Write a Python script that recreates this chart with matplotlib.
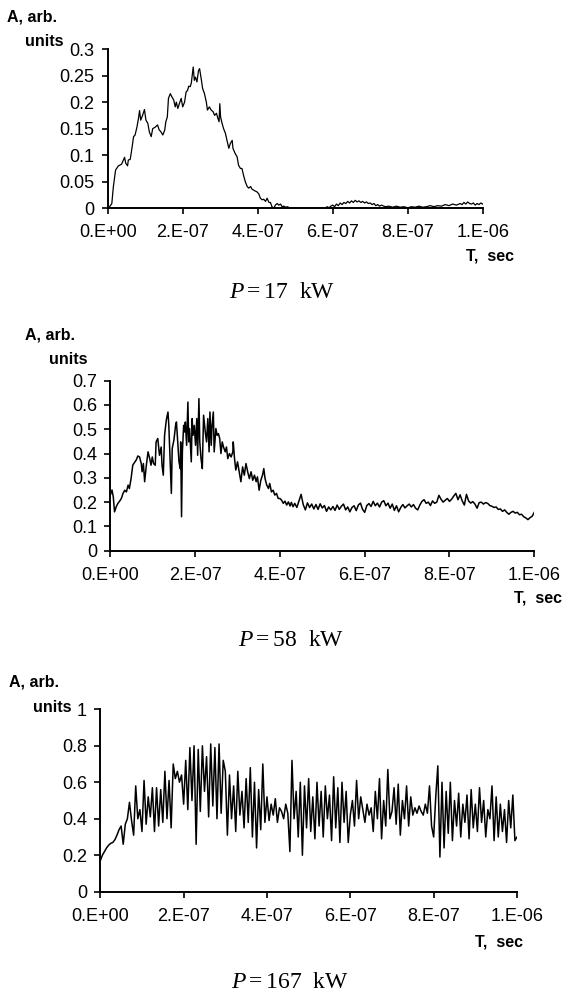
import numpy as np
import matplotlib
matplotlib.use("Agg")
import matplotlib.pyplot as plt

# =========================
# DONNÉES (temps en unités de 1e-7 s)
# =========================

# P = 17 kW
t17 = [0.0, 0.02, 0.11, 0.15, 0.21, 0.285, 0.37, 0.45, 0.48, 0.53,
       0.55, 0.60, 0.64, 0.69, 0.73, 0.78, 0.82, 0.85, 0.88, 0.93,
       0.98, 1.02, 1.07, 1.11, 1.16, 1.20, 1.27, 1.33, 1.37, 1.42,
       1.47, 1.52, 1.55, 1.59, 1.62, 1.67, 1.71, 1.76, 1.80, 1.83,
       1.87, 1.92, 1.96, 2.00, 2.05, 2.09, 2.13, 2.16, 2.20, 2.23,
       2.26, 2.28, 2.31, 2.34, 2.38, 2.42, 2.45, 2.50, 2.53, 2.58,
       2.63, 2.66, 2.71, 2.76, 2.81, 2.85, 2.90, 2.94, 2.97, 2.99,
       3.01, 3.05, 3.09, 3.14, 3.18, 3.23, 3.27, 3.32, 3.34, 3.40,
       3.45, 3.49, 3.54, 3.58, 3.63, 3.67, 3.72, 3.76, 3.81, 3.85,
       3.92, 3.98, 4.03, 4.07, 4.12, 4.16, 4.21, 4.25, 4.30, 4.34,
       4.38, 4.43, 4.47, 4.52, 4.56, 4.61, 4.65,
       4.70, 4.75, 4.80, 4.85, 5.00, 5.50, 5.80,
       5.85, 5.90, 5.95, 6.00, 6.05, 6.10, 6.15, 6.20, 6.25, 6.30,
       6.35, 6.40, 6.45, 6.50, 6.55, 6.60, 6.65, 6.70, 6.75, 6.80,
       6.85, 6.90, 6.95, 7.00, 7.05, 7.10, 7.15, 7.20, 7.25, 7.30,
       7.40, 7.50, 7.60, 7.70, 7.80, 7.90, 8.00, 8.10, 8.20, 8.30,
       8.40, 8.50, 8.60, 8.70, 8.80, 8.90, 9.00, 9.10, 9.20, 9.30,
       9.40, 9.45, 9.50, 9.55, 9.60, 9.65, 9.70, 9.75, 9.80, 9.85,
       9.90, 9.95, 10.00]
a17 = [0.0, 0.0, 0.009, 0.04, 0.072, 0.08, 0.083, 0.096, 0.085, 0.08,
       0.091, 0.092, 0.11, 0.135, 0.138, 0.153, 0.169, 0.184, 0.166, 0.175,
       0.186, 0.166, 0.16, 0.144, 0.135, 0.15, 0.153, 0.157, 0.148, 0.144,
       0.138, 0.147, 0.163, 0.172, 0.207, 0.216, 0.21, 0.204, 0.191, 0.2,
       0.188, 0.199, 0.207, 0.191, 0.2, 0.219, 0.222, 0.23, 0.229, 0.236,
       0.254, 0.266, 0.241, 0.247, 0.238, 0.259, 0.263, 0.241, 0.226, 0.216,
       0.2, 0.185, 0.191, 0.185, 0.182, 0.175, 0.179, 0.169, 0.163, 0.197,
       0.172, 0.16, 0.15, 0.141, 0.128, 0.113, 0.122, 0.128, 0.113, 0.103,
       0.097, 0.081, 0.075, 0.075, 0.06, 0.05, 0.041, 0.038, 0.041, 0.036,
       0.033, 0.031, 0.027, 0.019, 0.016, 0.017, 0.013, 0.019, 0.011, 0.011,
       0.003, 0.0, 0.006, 0.009, 0.006, 0.008, 0.003,
       0.004, 0.002, 0.003, 0.0, 0.0, 0.0, 0.0,
       0.003, 0.001, 0.004, 0.006, 0.003, 0.008, 0.005, 0.010, 0.007, 0.011,
       0.009, 0.013, 0.010, 0.014, 0.011, 0.015, 0.012, 0.014, 0.011, 0.013,
       0.010, 0.012, 0.009, 0.010, 0.007, 0.009, 0.005, 0.007, 0.004, 0.006,
       0.003, 0.004, 0.002, 0.004, 0.002, 0.003, 0.001, 0.003, 0.002, 0.004,
       0.002, 0.003, 0.005, 0.003, 0.005, 0.004, 0.007, 0.005, 0.008, 0.006,
       0.009, 0.007, 0.011, 0.008, 0.012, 0.009, 0.008, 0.010, 0.006, 0.009,
       0.007, 0.010, 0.008]

# P = 58 kW : début relevé point par point
t58_debut = [0.0, 0.04, 0.07, 0.10, 0.14, 0.18, 0.22, 0.26, 0.30, 0.34,
             0.38, 0.42, 0.45, 0.49, 0.53, 0.57, 0.61, 0.65, 0.69, 0.73,
             0.75, 0.78, 0.81, 0.85, 0.89, 0.93, 0.96, 0.99, 1.02, 1.06,
             1.08, 1.12, 1.16, 1.20, 1.22, 1.25, 1.28, 1.32, 1.36, 1.38,
             1.41, 1.44, 1.46, 1.50, 1.54, 1.56, 1.59, 1.62, 1.65, 1.66,
             1.68, 1.70, 1.73, 1.75, 1.77, 1.80, 1.83, 1.85, 1.87, 1.91,
             1.93, 1.95, 1.98, 2.01, 2.04, 2.06, 2.09, 2.11, 2.14, 2.17,
             2.20, 2.24, 2.27, 2.30, 2.33, 2.35, 2.38, 2.40, 2.43, 2.45,
             2.49, 2.52, 2.55, 2.58, 2.61, 2.64, 2.67, 2.71, 2.74, 2.77,
             2.81, 2.85, 2.89, 2.90, 2.93, 2.96, 3.00, 3.04, 3.08, 3.12,
             3.16, 3.20, 3.24, 3.28, 3.32, 3.36, 3.40, 3.44, 3.47, 3.51,
             3.55, 3.59, 3.62, 3.65, 3.69, 3.73, 3.76, 3.80, 3.84, 3.88,
             3.92, 3.96, 4.00, 4.04, 4.08, 4.12, 4.16, 4.20, 4.24, 4.27,
             4.31, 4.35]
a58_debut = [0.229, 0.25, 0.222, 0.16, 0.181, 0.195, 0.204, 0.215, 0.236, 0.249,
             0.242, 0.27, 0.256, 0.297, 0.352, 0.363, 0.373, 0.39, 0.386, 0.359,
             0.325, 0.359, 0.284, 0.352, 0.407, 0.379, 0.352, 0.386, 0.359, 0.352,
             0.448, 0.462, 0.393, 0.427, 0.352, 0.311, 0.475, 0.537, 0.571, 0.516,
             0.379, 0.236, 0.421, 0.455, 0.516, 0.53, 0.448, 0.366, 0.338, 0.448,
             0.14, 0.407, 0.516, 0.489, 0.53, 0.434, 0.612, 0.448, 0.503, 0.366,
             0.544, 0.475, 0.516, 0.434, 0.544, 0.393, 0.626, 0.448, 0.379, 0.338,
             0.558, 0.489, 0.448, 0.544, 0.407, 0.571, 0.434, 0.516, 0.571, 0.407,
             0.503, 0.475, 0.482, 0.462, 0.4, 0.448, 0.427, 0.407, 0.427, 0.379,
             0.4, 0.386, 0.407, 0.448, 0.379, 0.332, 0.366, 0.325, 0.284, 0.345,
             0.311, 0.359, 0.325, 0.297, 0.325, 0.29, 0.311, 0.284, 0.304, 0.249,
             0.29, 0.311, 0.338, 0.297, 0.27, 0.256, 0.277, 0.242, 0.249, 0.229,
             0.236, 0.215, 0.215, 0.208, 0.195, 0.204, 0.188, 0.201, 0.184, 0.199,
             0.181, 0.195]
# P = 58 kW : suite, un point tous les 0.05e-7 s à partir de 4.40e-7 s
a58_suite = [0.178, 0.205, 0.232, 0.190, 0.168, 0.197, 0.178, 0.192, 0.172, 0.190,
             0.170, 0.193, 0.176, 0.186, 0.162, 0.180, 0.168, 0.182, 0.166, 0.188,
             0.170, 0.183, 0.192, 0.168, 0.180, 0.160, 0.178, 0.185, 0.165, 0.188,
             0.196, 0.170, 0.158, 0.186, 0.194, 0.182, 0.203, 0.185, 0.196, 0.180,
             0.200, 0.206, 0.185, 0.196, 0.175, 0.192, 0.166, 0.185, 0.160, 0.178,
             0.190, 0.176, 0.185, 0.192, 0.180, 0.190, 0.175, 0.168, 0.188, 0.203,
             0.210, 0.195, 0.200, 0.186, 0.205, 0.195, 0.200, 0.228, 0.212, 0.200,
             0.208, 0.215, 0.203, 0.212, 0.225, 0.236, 0.210, 0.230, 0.205, 0.188,
             0.232, 0.205, 0.196, 0.202, 0.192, 0.175, 0.198, 0.200, 0.192, 0.198,
             0.195, 0.186, 0.183, 0.178, 0.180, 0.170, 0.172, 0.162, 0.168, 0.158,
             0.150, 0.158, 0.162, 0.155, 0.158, 0.148, 0.150, 0.140, 0.135, 0.128,
             0.136, 0.142, 0.158]

# P = 167 kW : un point tous les 0.05e-7 s
a167 = [0.17, 0.20, 0.22, 0.24, 0.255, 0.265, 0.27, 0.285, 0.31, 0.34,
        0.36, 0.26, 0.37, 0.40, 0.49, 0.39, 0.31, 0.58, 0.40, 0.45,
        0.33, 0.61, 0.37, 0.52, 0.41, 0.57, 0.33, 0.57, 0.36, 0.56,
        0.38, 0.66, 0.40, 0.61, 0.35, 0.70, 0.62, 0.66, 0.60, 0.64,
        0.48, 0.72, 0.45, 0.79, 0.50, 0.80, 0.26, 0.78, 0.44, 0.80,
        0.55, 0.74, 0.41, 0.81, 0.47, 0.79, 0.40, 0.81, 0.43, 0.72,
        0.66, 0.31, 0.64, 0.40, 0.58, 0.33, 0.66, 0.42, 0.55, 0.35,
        0.62, 0.38, 0.68, 0.30, 0.60, 0.24, 0.56, 0.34, 0.70, 0.38,
        0.52, 0.39, 0.48, 0.42, 0.51, 0.38, 0.46, 0.44, 0.40, 0.48,
        0.43, 0.22, 0.72, 0.40, 0.55, 0.30, 0.60, 0.20, 0.58, 0.35,
        0.62, 0.33, 0.52, 0.29, 0.60, 0.36, 0.55, 0.30, 0.58, 0.40,
        0.53, 0.28, 0.63, 0.35, 0.57, 0.27, 0.60, 0.38, 0.55, 0.27,
        0.42, 0.50, 0.36, 0.61, 0.40, 0.52, 0.45, 0.38, 0.48, 0.42,
        0.46, 0.33, 0.55, 0.40, 0.62, 0.29, 0.50, 0.36, 0.67, 0.40,
        0.44, 0.57, 0.37, 0.59, 0.31, 0.50, 0.40, 0.58, 0.36, 0.52,
        0.42, 0.46, 0.43, 0.47, 0.44, 0.42, 0.48, 0.43, 0.58, 0.36,
        0.30, 0.52, 0.69, 0.19, 0.60, 0.24, 0.55, 0.32, 0.60, 0.28,
        0.50, 0.36, 0.54, 0.30, 0.48, 0.38, 0.53, 0.29, 0.56, 0.35,
        0.48, 0.33, 0.57, 0.38, 0.50, 0.30, 0.45, 0.40, 0.58, 0.28,
        0.52, 0.30, 0.48, 0.33, 0.45, 0.27, 0.50, 0.35, 0.53, 0.28,
        0.30]

x_ticks = [0, 2e-7, 4e-7, 6e-7, 8e-7, 1e-6]
x_labels = ["0.E+00", "2.E-07", "4.E-07", "6.E-07", "8.E-07", "1.E-06"]

y_ticks_17 = [0, 0.05, 0.1, 0.15, 0.2, 0.25, 0.3]
y_labels_17 = ["0", "0.05", "0.1", "0.15", "0.2", "0.25", "0.3"]
y_ticks_58 = [0, 0.1, 0.2, 0.3, 0.4, 0.5, 0.6, 0.7]
y_labels_58 = ["0", "0.1", "0.2", "0.3", "0.4", "0.5", "0.6", "0.7"]
y_ticks_167 = [0, 0.2, 0.4, 0.6, 0.8, 1.0]
y_labels_167 = ["0", "0.2", "0.4", "0.6", "0.8", "1"]

puissances = ["17", "58", "167"]

# =========================
# STYLE
# =========================

plt.rcParams["font.family"] = ["Liberation Sans", "DejaVu Sans"]
plt.rcParams["mathtext.fontset"] = "custom"
plt.rcParams["mathtext.rm"] = "Liberation Serif"
plt.rcParams["mathtext.it"] = "Liberation Serif:italic"

W, H = 569, 998
fig = plt.figure(figsize=(W / 100, H / 100), dpi=100)


def rect(x0, y0, x1, y1):
    # pixels (gauche, bas, droite, haut) -> fraction de figure
    return [x0 / W, 1 - y0 / H, (x1 - x0) / W, (y0 - y1) / H]


def texte(x, y, s, **kw):
    fig.text(x / W, 1 - y / H, s, **kw)


def panneau(r, t, a, yt, yl, ymax, lw):
    ax = fig.add_axes(r)
    ax.plot(np.array(t) * 1e-7, a, color="black", lw=lw)
    ax.set_xlim(0, 1e-6)
    ax.set_ylim(0, ymax)
    ax.set_xticks(x_ticks)
    ax.set_xticklabels(x_labels)
    ax.set_yticks(yt)
    ax.set_yticklabels(yl)
    for s in ["top", "right"]:
        ax.spines[s].set_visible(False)
    for s in ["left", "bottom"]:
        ax.spines[s].set_linewidth(1.4)
    ax.tick_params(axis="both", direction="out", length=4.5, width=1.2,
                   labelsize=13, colors="black")
    ax.tick_params(axis="x", pad=7)
    ax.tick_params(axis="y", pad=5)
    ax.patch.set_alpha(0)
    return ax


# =========================
# PANNEAUX
# =========================

panneau(rect(107.7, 208.3, 482.7, 49), t17, a17, y_ticks_17, y_labels_17, 0.3, 0.9)

t58 = t58_debut + list(np.round(np.arange(4.40, 10.001, 0.05), 2))
a58 = a58_debut + a58_suite
panneau(rect(110.3, 550.7, 534.3, 380.7), t58, a58, y_ticks_58, y_labels_58, 0.7, 1.1)

t167 = np.linspace(0, 10, len(a167))
panneau(rect(100.3, 891.7, 517.0, 709.3), t167, a167, y_ticks_167, y_labels_167, 1.0, 1.1)

# =========================
# TEXTES
# =========================

gras = dict(fontsize=11.5, fontweight="bold", va="center")

texte(7, 17, "A, arb.", ha="left", **gras)
texte(63, 42, "units", ha="right", **gras)
texte(514, 256, "T,  sec", ha="right", **gras)

texte(25, 335, "A, arb.", ha="left", **gras)
texte(88, 359, "units", ha="right", **gras)
texte(562, 598, "T,  sec", ha="right", **gras)

texte(9, 682, "A, arb.", ha="left", **gras)
texte(71, 708, "units", ha="right", **gras)
texte(523, 942, "T,  sec", ha="right", **gras)

for (cx, cy), p in zip([(282, 293), (291, 641), (290, 983)], puissances):
    texte(cx, cy, r"$P = %s$  kW" % p, ha="center", va="center",
          fontsize=17, family="Liberation Serif")

fig.savefig("out.png", dpi=100)
